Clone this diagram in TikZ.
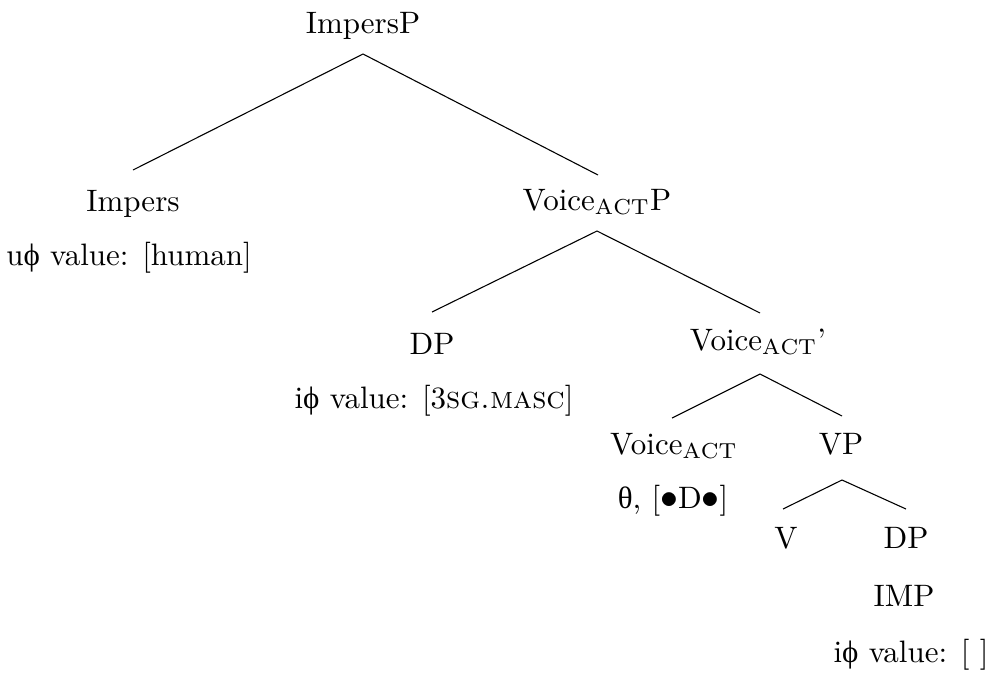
\documentclass[tikz,border=0pt]{standalone}
\usepackage{fontspec}
\usepackage{graphicx}
\newfontfamily\grk{Liberation Serif}
\newcommand{\myphi}{{\grk ϕ}}
\newcommand{\mytheta}{{\grk θ}}
\newcommand{\bigbul}{\scalebox{1.15}{$\bullet$}}
\tikzset{
  x=0.32258pt, y=-0.32258pt,
  lbl/.style={anchor=base, inner sep=0pt, font=\fontsize{10}{12}\selectfont},
  br/.style={line width=0.35pt}
}
\begin{document}
\begin{tikzpicture}
\useasboundingbox (0,0) rectangle (987,672);
% labels
\node[lbl] (impersp) at (363,33) {ImpersP};
\node[lbl] (impers) at (133,211) {Impers};
\node[lbl] (impersf) at (129,265) {u\myphi{} value: [human]};
\node[lbl] (voicep) at (597,210) {Voice$_{\mathrm{ACT}}$P};
\node[lbl] (dp1) at (432,354) {DP};
\node[lbl] (dp1f) at (434,408) {i\myphi{} value: [3\textsc{sg.masc}]};
\node[lbl] (voicebar) at (758,350) {Voice$_{\mathrm{ACT}}$'};
\node[lbl] (voice) at (674,454) {Voice$_{\mathrm{ACT}}$};
\node[lbl] (voicef) at (673,508) {\mytheta, [\bigbul D\bigbul]};
\node[lbl] (vp) at (841,454) {VP};
\node[lbl] (v) at (786,548) {V};
\node[lbl] (dp2) at (906,548) {DP};
\node[lbl] (imp) at (904,606) {IMP};
\node[lbl] (dp2f) at (911,662) {i\myphi{} value: [\ ]};
% branch points
\coordinate (a1) at (363,54);
\coordinate (l1) at (133,170);
\coordinate (r1) at (598,175);
\coordinate (a2) at (597,231);
\coordinate (l2) at (432,312);
\coordinate (r2) at (760,313);
\coordinate (a3) at (760,374);
\coordinate (l3) at (672,418);
\coordinate (r3) at (842,416);
\coordinate (a4) at (842,480);
\coordinate (l4) at (783,509);
\coordinate (r4) at (906,509);
\draw[br] (l1) -- (a1) -- (r1);
\draw[br] (l2) -- (a2) -- (r2);
\draw[br] (l3) -- (a3) -- (r3);
\draw[br] (l4) -- (a4) -- (r4);
\end{tikzpicture}
\end{document}
